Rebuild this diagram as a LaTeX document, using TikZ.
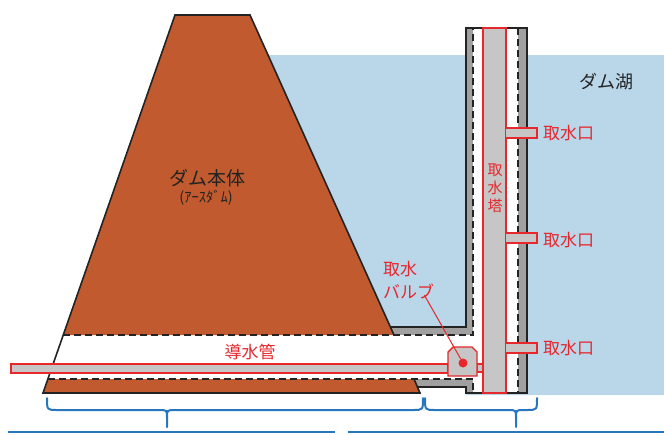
\documentclass[tikz,border=0pt]{standalone}
\usepackage{fontspec}
\setmainfont{Noto Sans CJK JP}

\definecolor{dam}{RGB}{193,90,46}
\definecolor{lake}{RGB}{186,214,233}
\definecolor{wall}{RGB}{160,160,160}
\definecolor{shaft}{RGB}{198,198,198}
\definecolor{signred}{RGB}{230,40,45}
\definecolor{guide}{RGB}{40,118,190}
\definecolor{ink}{RGB}{35,35,35}

\tikzset{
  redlbl/.style={font=\fontsize{17}{23}\selectfont, text=signred, inner sep=0pt},
  blklbl/.style={font=\fontsize{19}{23}\selectfont, text=ink, inner sep=0pt},
  outline/.style={draw=ink, line width=1.6pt},
  dashline/.style={draw=ink, line width=1.6pt, dash pattern=on 7pt off 4pt},
  redpipe/.style={draw=signred, line width=1.4pt, fill=shaft},
}

\begin{document}
\begin{tikzpicture}[x=1pt,y=-1pt]
\useasboundingbox (0,0) rectangle (664,434);
% lake
\fill[lake] (255,55) -- (664,55) -- (664,395) -- (466,395) -- (466,327) -- (255,327) -- cycle;
% concrete walls of conduit and tower
\fill[wall] (380,327) rectangle (466,387);
\fill[wall] (466,28) rectangle (527,393);
% water channel
\fill[white] (60,335) rectangle (473,379);
\fill[white] (473,28) rectangle (518,393);
% dam body
\fill[dam] (175,15) -- (250,15) -- (394,335) -- (63,335) -- cycle;
\fill[dam] (48,379) -- (414,379) -- (420,393) -- (43,393) -- cycle;
\draw[outline] (394,335) -- (250,15) -- (175,15) -- (43,393) -- (420,393) -- (414,379);
% dashed inner lines
\draw[dashline] (63,335) -- (473,335) -- (473,28);
\draw[dashline] (48,379) -- (473,379) -- (473,393);
\draw[dashline] (518,28) -- (518,393);
\draw[outline] (390,327) -- (466,327) -- (466,28) -- (527,28) -- (527,393) -- (466,393) -- (466,387) -- (417,387);
% tower shaft and intakes
\draw[redpipe] (483,28) rectangle (506,393);
\foreach \y in {128,233,343}
  \draw[redpipe] (506,\y) -- (537,\y) -- (537,\y+10) -- (506,\y+10);
% conduit pipe and valve
\draw[redpipe] (11,364) rectangle (448,373);
\draw[redpipe] (477,364) rectangle (483,372);
\draw[redpipe] (448,376) -- (448,352) -- (453,347) -- (472,347) -- (477,352) -- (477,376) -- cycle;
\node[circle, fill=signred, minimum size=9pt, inner sep=0pt] (vdot) at (463,363) {};

% labels
\node[blklbl] (damlbl) at (207,178) {ダム本体};
\node[font=\fontsize{14.5}{16}\selectfont, text=ink, inner sep=0pt] (damsub) at (206,198) {(ｱｰｽﾀﾞﾑ)};
\node[blklbl, font=\fontsize{18}{22}\selectfont] (lakelbl) at (606,82) {ダム湖};
\node[redlbl] (pipelbl) at (250,352) {導水管};
\node[redlbl, align=left, anchor=north west] (valvelbl) at (383,261) {取水\\バルブ};
\node[redlbl, align=center, font=\fontsize{15}{18}\selectfont] (towerlbl) at (495,188) {取\\水\\塔};
\foreach \y/\n in {133/1,240/2,348/3}
  \node[redlbl, anchor=west] (port\n) at (543,\y) {取水口};
\draw[signred, line width=1pt] ([shift={(-10,-4)}]valvelbl.south east) -- (vdot);

% braces under the drawing
\foreach \a/\m/\b in {47/167/423, 425/516/537} {
  \draw[guide, line width=2pt, line cap=round] (\a,398) .. controls (\a,410) .. (\a+10,410)
    -- (\m-8,410) .. controls (\m,410) .. (\m,418) -- (\m,427);
  \draw[guide, line width=2pt, line cap=round] (\m,418) .. controls (\m,410) .. (\m+8,410)
    -- (\b-10,410) .. controls (\b,410) .. (\b,398);
}
\draw[guide, line width=2.5pt] (8,432) -- (335,432);
\draw[guide, line width=2.5pt] (348,432) -- (664,432);
\end{tikzpicture}
\end{document}
